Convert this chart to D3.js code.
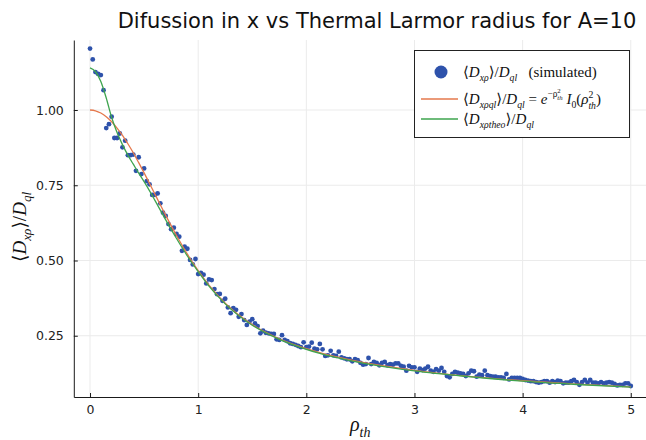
<!DOCTYPE html>
<html>
<head>
<meta charset="utf-8">
<script src="https://cdn.jsdelivr.net/npm/d3@7"></script>
<style>
  body { margin: 0; background: #fff; }
  svg { display: block; }
  .tick text { font-family: 'DejaVu Sans', sans-serif; font-size: 12.5px; fill: #222; }
  .math { font-family: 'Liberation Serif', 'DejaVu Serif', serif; white-space: pre; fill: #111; }
</style>
</head>
<body>
<svg id="chart" width="646" height="440"></svg>
<script>
// sampling step of the simulation in rho_th
const rhoStep = 0.025

// <D_xrho>/D_ql, simulated, one value per rho step from 0 to 5
const simulated = [
    1.204, 1.168, 1.126, 1.120, 1.116, 1.066, 0.940, 0.953, 0.978, 0.907,
    0.907, 0.922, 0.876, 0.898, 0.850, 0.850, 0.852, 0.798, 0.843, 0.787,
    0.806, 0.764, 0.753, 0.718, 0.718, 0.723, 0.690, 0.659, 0.648, 0.621,
    0.604, 0.609, 0.588, 0.579, 0.532, 0.546, 0.539, 0.502, 0.487, 0.505,
    0.455, 0.459, 0.453, 0.424, 0.437, 0.435, 0.405, 0.388, 0.389, 0.366,
    0.373, 0.344, 0.325, 0.342, 0.336, 0.313, 0.322, 0.302, 0.286, 0.297,
    0.305, 0.291, 0.282, 0.258, 0.267, 0.260, 0.258, 0.256, 0.256, 0.238,
    0.236, 0.252, 0.236, 0.232, 0.225, 0.223, 0.220, 0.216, 0.212, 0.228,
    0.212, 0.214, 0.227, 0.207, 0.205, 0.223, 0.205, 0.183, 0.185, 0.200,
    0.185, 0.183, 0.197, 0.178, 0.175, 0.172,
    0.172, 0.165, 0.172, 0.169, 0.160, 0.154, 0.156, 0.176, 0.156, 0.163,
    0.160, 0.152, 0.160, 0.163, 0.152, 0.156, 0.154, 0.158, 0.158, 0.150,
    0.147, 0.134, 0.150, 0.145, 0.145, 0.130, 0.141, 0.136, 0.141, 0.147,
    0.134, 0.130, 0.139, 0.134, 0.143, 0.130, 0.116, 0.112, 0.123, 0.130,
    0.127, 0.125, 0.123, 0.116, 0.125, 0.134, 0.132, 0.114, 0.121, 0.119,
    0.134, 0.119,
    0.116, 0.114, 0.114, 0.112, 0.112, 0.110, 0.123, 0.105, 0.110, 0.110,
    0.110, 0.110, 0.107, 0.103, 0.101, 0.099, 0.099, 0.096, 0.094, 0.096,
    0.099, 0.099, 0.094, 0.099, 0.096, 0.101, 0.099, 0.092, 0.094, 0.094,
    0.099, 0.103, 0.096, 0.087, 0.096, 0.103, 0.094, 0.103, 0.094, 0.094,
    0.092, 0.096, 0.092, 0.094, 0.096, 0.094, 0.090, 0.085, 0.087, 0.087,
    0.092, 0.092, 0.083
]

// quasilinear curve e^{-rho^2} I0(rho^2)
const qlRho = [0, 0.05, 0.1, 0.15, 0.2, 0.25, 0.3, 0.35, 0.4, 0.45, 0.5, 0.6, 0.7, 0.8, 0.9,
    1.0, 1.1, 1.25, 1.5, 1.75, 2.0, 2.25, 2.5, 2.75, 3.0, 3.5, 4.0, 4.5, 5.0]
const qlValues = [1.000, 0.9975, 0.990, 0.978, 0.961, 0.940, 0.916, 0.888, 0.858, 0.825, 0.791,
    0.7205, 0.650, 0.583, 0.521, 0.466, 0.418, 0.358, 0.287, 0.240, 0.207, 0.182, 0.163,
    0.148, 0.135, 0.115, 0.1005, 0.089, 0.080]

// theory curve
const theoRho = [0, 0.05, 0.1, 0.15, 0.2, 0.25, 0.3, 0.35, 0.4, 0.45, 0.5, 0.6, 0.7, 0.8, 0.9,
    1.0, 1.1, 1.25, 1.5, 1.75, 2.0, 2.25, 2.5, 2.75, 3.0, 3.5, 4.0, 4.5, 5.0]
const theoValues = [1.140, 1.128, 1.095, 1.040, 0.975, 0.925, 0.885, 0.850, 0.820, 0.790, 0.762,
    0.700, 0.635, 0.573, 0.515, 0.463, 0.415, 0.356, 0.285, 0.238, 0.205, 0.180, 0.161,
    0.146, 0.133, 0.114, 0.099, 0.088, 0.079]

const xTicks = [0, 1, 2, 3, 4, 5]
const yTicks = [0.25, 0.50, 0.75, 1.00]

const colorPoints = '#2e52ab'
const colorQl = '#e5784c'
const colorTheo = '#3ea44e'

const svg = d3.select('#chart')

const plot = { left: 73.8, right: 647, top: 40, bottom: 397 }

const x = d3.scaleLinear().domain([-0.15, 5.15]).range([plot.left, plot.right])
const y = d3.scaleLinear().domain([0.0465, 1.2326]).range([plot.bottom, plot.top])

// writes a small math string made of tspans
// each part: t text, s size factor, o baseline offset in em (up is positive), r upright, dx in em
function mathText (g, px, py, size, parts) {
    const text = g.append('text')
        .attr('class', 'math')
        .attr('x', px)
        .attr('y', py)
        .style('font-size', size + 'px')
    let prev = 0
    parts.forEach(p => {
        const off = p.o || 0
        const ts = text.append('tspan')
            .text(p.t)
            .attr('dy', (prev - off) * size)
            .style('font-size', (p.s || 1) * size + 'px')
            .style('font-style', p.r ? 'normal' : 'italic')
        if (p.dx) ts.attr('dx', p.dx * size)
        prev = off
    })
    return text
}

// grid
const grid = svg.append('g').attr('class', 'grid')
grid.selectAll('line.gx')
    .data(xTicks)
    .join('line')
    .attr('class', 'gx')
    .attr('x1', d => x(d)).attr('x2', d => x(d))
    .attr('y1', plot.top).attr('y2', plot.bottom)
    .attr('stroke', '#ebebeb').attr('stroke-width', 1)
grid.selectAll('line.gy')
    .data(yTicks)
    .join('line')
    .attr('class', 'gy')
    .attr('x1', plot.left).attr('x2', plot.right)
    .attr('y1', d => y(d)).attr('y2', d => y(d))
    .attr('stroke', '#ebebeb').attr('stroke-width', 1)

// axes
const xAxis = svg.append('g')
    .attr('transform', `translate(0,${plot.bottom})`)
    .call(d3.axisBottom(x).tickValues(xTicks).tickFormat(d3.format('d'))
        .tickSizeInner(-4).tickSizeOuter(0).tickPadding(8))
const yAxis = svg.append('g')
    .attr('transform', `translate(${plot.left},0)`)
    .call(d3.axisLeft(y).tickValues(yTicks).tickFormat(d3.format('.2f'))
        .tickSizeInner(-4).tickSizeOuter(0).tickPadding(10))
xAxis.select('.domain').attr('stroke', '#1a1a1a')
yAxis.select('.domain').attr('stroke', '#1a1a1a')
svg.selectAll('.tick line').attr('stroke', '#1a1a1a')

// simulated points
const simData = simulated.map((v, i) => ({ rho: i * rhoStep, v }))
svg.append('g')
    .selectAll('circle')
    .data(simData)
    .join('circle')
    .attr('cx', d => x(d.rho))
    .attr('cy', d => y(d.v))
    .attr('r', 2.4)
    .attr('fill', colorPoints)

// curves
const line = d3.line()
    .x(d => x(d[0]))
    .y(d => y(d[1]))
    .curve(d3.curveMonotoneX)

svg.append('path')
    .datum(d3.zip(qlRho, qlValues))
    .attr('d', line)
    .attr('fill', 'none')
    .attr('stroke', colorQl)
    .attr('stroke-width', 1.3)

svg.append('path')
    .datum(d3.zip(theoRho, theoValues))
    .attr('d', line)
    .attr('fill', 'none')
    .attr('stroke', colorTheo)
    .attr('stroke-width', 1.3)

// title
svg.append('text')
    .attr('x', 377)
    .attr('y', 28)
    .attr('text-anchor', 'middle')
    .style('font-family', "'DejaVu Sans', sans-serif")
    .style('font-size', '21px')
    .style('fill', '#111')
    .text('Difussion in x vs Thermal Larmor radius for A=10')

// axis labels
mathText(svg, 350, 431, 20, [
    { t: 'ρ' },
    { t: 'th', s: 0.7, o: -0.3 }
])

const yLabel = mathText(svg, 0, 0, 19, [
    { t: '⟨', r: 1 },
    { t: 'D' },
    { t: 'xρ', s: 0.7, o: -0.25 },
    { t: '⟩/', r: 1 },
    { t: 'D' },
    { t: 'ql', s: 0.7, o: -0.25 }
])
yLabel.attr('transform', 'translate(26,262) rotate(-90)')

// legend
const legend = svg.append('g')
legend.append('rect')
    .attr('x', 414.5).attr('y', 50.5)
    .attr('width', 215).attr('height', 87)
    .attr('fill', '#fff')
    .attr('stroke', '#222')
    .attr('stroke-width', 1)

legend.append('circle')
    .attr('cx', 441).attr('cy', 72)
    .attr('r', 6.5)
    .attr('fill', colorPoints)
mathText(legend, 463, 77, 15, [
    { t: '⟨', r: 1 },
    { t: 'D' },
    { t: 'xρ', s: 0.65, o: -0.25 },
    { t: '⟩/', r: 1 },
    { t: 'D' },
    { t: 'ql', s: 0.65, o: -0.25 },
    { t: '   (simulated)', r: 1 }
])

legend.append('line')
    .attr('x1', 421).attr('x2', 458)
    .attr('y1', 99).attr('y2', 99)
    .attr('stroke', colorQl).attr('stroke-width', 1.5)
mathText(legend, 463, 104, 15, [
    { t: '⟨', r: 1 },
    { t: 'D' },
    { t: 'xρql', s: 0.65, o: -0.25 },
    { t: '⟩/', r: 1 },
    { t: 'D' },
    { t: 'ql', s: 0.65, o: -0.25 },
    { t: ' = ', r: 1 },
    { t: 'e' },
    { t: '−ρ', s: 0.62, o: 0.45, r: 1 },
    { t: '2', s: 0.45, o: 0.75, r: 1 },
    { t: 'th', s: 0.45, o: 0.3, dx: -0.22 },
    { t: ' I' },
    { t: '0', s: 0.65, o: -0.25, r: 1 },
    { t: '(', r: 1 },
    { t: 'ρ' },
    { t: '2', s: 0.65, o: 0.4, r: 1 },
    { t: 'th', s: 0.65, o: -0.3, dx: -0.33 },
    { t: ')', r: 1 }
])

legend.append('line')
    .attr('x1', 421).attr('x2', 458)
    .attr('y1', 119).attr('y2', 119)
    .attr('stroke', colorTheo).attr('stroke-width', 1.5)
mathText(legend, 463, 124, 15, [
    { t: '⟨', r: 1 },
    { t: 'D' },
    { t: 'xρtheo', s: 0.65, o: -0.25 },
    { t: '⟩/', r: 1 },
    { t: 'D' },
    { t: 'ql', s: 0.65, o: -0.25 }
])
</script>
</body>
</html>
